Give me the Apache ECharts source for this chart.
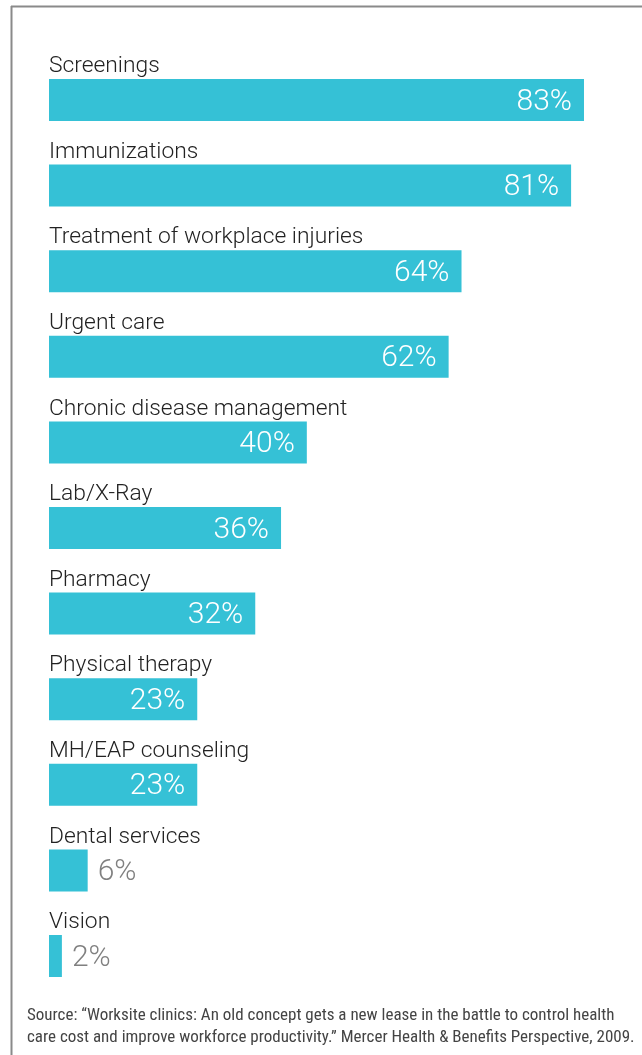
<!DOCTYPE html>
<html>
<head>
<meta charset="utf-8">
<script src="https://cdn.jsdelivr.net/npm/echarts@6/dist/echarts.min.js"></script>
<style>
html,body{margin:0;padding:0;background:#fff;}
#chart{width:642px;height:1055px;}
</style>
</head>
<body>
<div id="chart"></div>
<script>
const categories = ["Screenings","Immunizations","Treatment of workplace injuries","Urgent care","Chronic disease management","Lab/X-Ray","Pharmacy","Physical therapy","MH/EAP counseling","Dental services","Vision"];
const values = [83,81,64,62,40,36,32,23,23,6,2];
const sourceLines = ["Source: \u201cWorksite clinics: An old concept gets a new lease in the battle to control health","care cost and improve workforce productivity.\u201d Mercer Health & Benefits Perspective, 2009."];

const barColor = '#35c1d6';
const chart = echarts.init(document.getElementById('chart'));

const valueData = values.map(v => ({
  value: v,
  label: v >= 10 ? {
    show: true, position: 'insideRight', distance: 12, offset: [0, 2], color: '#fff',
    fontSize: 30, fontFamily: 'Roboto', fontWeight: 300, formatter: '{c}%'
  } : {
    show: true, position: 'right', distance: 10, offset: [0, 2], color: '#808080',
    fontSize: 30, fontFamily: 'Roboto', fontWeight: 300, formatter: '{c}%'
  }
}));

chart.setOption({
  animation: false,
  grid: { left: 49, top: 57.2, right: 0, height: 941.6 },
  xAxis: { type: 'value', min: 0, max: 92, show: false },
  yAxis: { type: 'category', data: categories, inverse: true, show: false },
  graphic: [
    { type: 'line', shape: { x1: 11.5, y1: 6, x2: 11.5, y2: 1055 }, style: { stroke: '#8a8a8a', lineWidth: 2 } },
    { type: 'line', shape: { x1: 11, y1: 6.5, x2: 642, y2: 6.5 }, style: { stroke: '#8a8a8a', lineWidth: 2 } },
    { type: 'text', left: 27, top: 1005, style: { text: sourceLines.join('\n'), fill: '#444', fontSize: 17, lineHeight: 22, fontFamily: '"Liberation Sans Narrow", "Roboto Condensed", "DejaVu Sans Condensed", sans-serif' } }
  ],
  series: [
    {
      type: 'bar', data: valueData, barWidth: 42, itemStyle: { color: barColor }, z: 2
    },
    {
      type: 'bar', data: values, barWidth: 42, barGap: '-100%',
      itemStyle: { color: 'rgba(0,0,0,0)' }, silent: true, z: 3,
      label: {
        show: true, position: [0, -1], align: 'left', verticalAlign: 'bottom',
        color: '#222', fontSize: 22.8, fontFamily: 'Roboto', fontWeight: 300,
        formatter: p => categories[p.dataIndex]
      }
    }
  ]
});
</script>
</body>
</html>
